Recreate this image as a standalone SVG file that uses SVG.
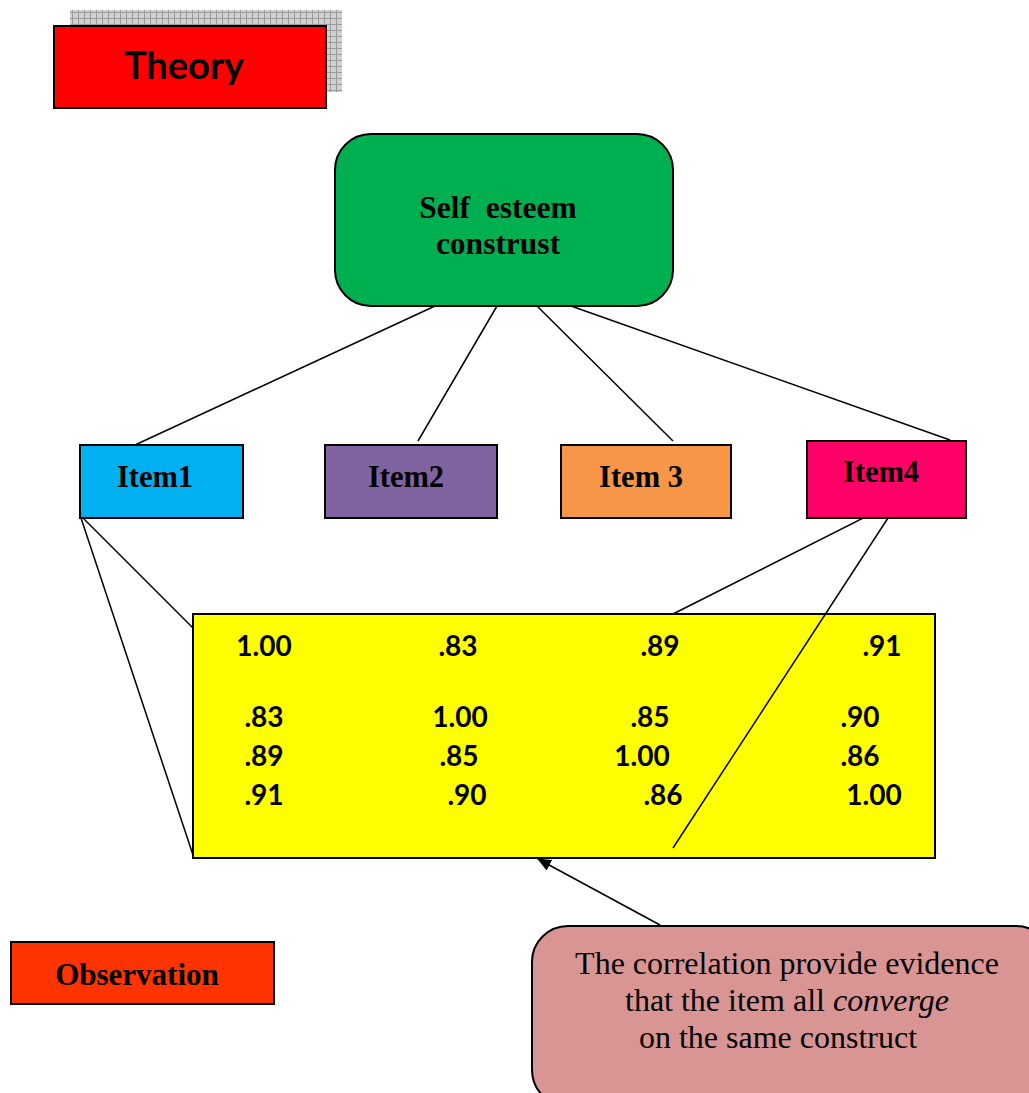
<svg xmlns="http://www.w3.org/2000/svg" width="1029" height="1093" viewBox="0 0 1029 1093">
<defs>
<pattern id="grid" width="6" height="6" patternUnits="userSpaceOnUse">
<rect width="6" height="6" fill="#d0d0d0"/>
<path d="M0 0.5H6M0.5 0V6" stroke="#9a9a9a" stroke-width="1"/>
</pattern>
<marker id="arr" markerWidth="14" markerHeight="12" refX="13" refY="6" orient="auto" markerUnits="userSpaceOnUse">
<path d="M0 0L14 6L0 12z" fill="#000"/>
</marker>
<style>
.box{stroke:#000;stroke-width:2}
.num{font-family:Lato,sans-serif;font-weight:bold;font-size:28px;fill:#000}
.ln{stroke:#000;stroke-width:1.5;fill:none}
</style>
</defs>
<g id="connectors">
<line class="ln" x1="435" y1="306" x2="135" y2="445"/>
<line class="ln" x1="497" y1="306" x2="418" y2="441"/>
<line class="ln" x1="537" y1="306" x2="673" y2="441"/>
<line class="ln" x1="571" y1="306" x2="950" y2="440"/>
<line class="ln" x1="80" y1="515" x2="193" y2="628"/>
<line class="ln" x1="80" y1="515" x2="193" y2="855"/>
<line class="ln" x1="885" y1="507" x2="673" y2="614"/>
</g>
<g id="theory">
<rect x="70" y="10" width="272" height="82" fill="url(#grid)"/>
<rect class="box" x="54" y="26" width="272" height="82" fill="#ff0000"/>
<text x="184" y="79" text-anchor="middle" font-family="Lato, sans-serif" font-weight="bold" font-size="38">Theory</text>
</g>
<g id="construct">
<rect class="box" x="335" y="134" width="338" height="172" rx="36" fill="#00b050"/>
<text x="498" y="218" text-anchor="middle" font-family="Liberation Serif, serif" font-weight="bold" font-size="31.5" xml:space="preserve">Self  esteem</text>
<text x="498" y="254" text-anchor="middle" font-family="Liberation Serif, serif" font-weight="bold" font-size="31.5">construst</text>
</g>
<g id="item1">
<rect class="box" x="80" y="445" width="163" height="73" fill="#00b0f0"/>
<text x="155" y="487" text-anchor="middle" font-family="Liberation Serif, serif" font-weight="bold" font-size="30.5">Item1</text>
</g>
<g id="item2">
<rect class="box" x="325" y="445" width="172" height="73" fill="#8064a2"/>
<text x="406" y="487" text-anchor="middle" font-family="Liberation Serif, serif" font-weight="bold" font-size="30.5">Item2</text>
</g>
<g id="item3">
<rect class="box" x="561" y="445" width="170" height="73" fill="#f79646"/>
<text x="641" y="487" text-anchor="middle" font-family="Liberation Serif, serif" font-weight="bold" font-size="30.5">Item 3</text>
</g>
<g id="item4">
<rect class="box" x="807" y="441" width="159" height="77" fill="#ff0066"/>
<text x="881" y="482" text-anchor="middle" font-family="Liberation Serif, serif" font-weight="bold" font-size="30.5">Item4</text>
</g>
<g id="matrix">
<rect class="box" x="193" y="614" width="742" height="244" fill="#ffff00"/>
<g class="num" text-anchor="middle">
<text x="264" y="656">1.00</text>
<text x="458" y="656">.83</text>
<text x="660" y="656">.89</text>
<text x="882" y="656">.91</text>
<text x="264" y="727">.83</text>
<text x="460" y="727">1.00</text>
<text x="650" y="727">.85</text>
<text x="860" y="727">.90</text>
<text x="264" y="766">.89</text>
<text x="459" y="766">.85</text>
<text x="642" y="766">1.00</text>
<text x="860" y="766">.86</text>
<text x="264" y="805">.91</text>
<text x="467" y="805">.90</text>
<text x="663" y="805">.86</text>
<text x="874" y="805">1.00</text>
</g>
</g>
<g id="connectors-over">
<line class="ln" x1="888" y1="518" x2="673" y2="848"/>
<line class="ln" x1="660" y1="925" x2="538" y2="859" marker-end="url(#arr)"/>
</g>
<g id="observation">
<rect class="box" x="11" y="942" width="263" height="62" fill="#ff3300"/>
<text x="137" y="985" text-anchor="middle" font-family="Liberation Serif, serif" font-weight="bold" font-size="31">Observation</text>
</g>
<g id="callout">
<rect class="box" x="532" y="926" width="520" height="180" rx="36" fill="#d99594"/>
<text x="787" y="974" text-anchor="middle" font-family="Liberation Serif, serif" font-size="32">The correlation provide evidence</text>
<text x="787" y="1011" text-anchor="middle" font-family="Liberation Serif, serif" font-size="32">that the item all <tspan font-style="italic">converge</tspan></text>
<text x="778" y="1048" text-anchor="middle" font-family="Liberation Serif, serif" font-size="32">on the same construct</text>
</g>
</svg>
